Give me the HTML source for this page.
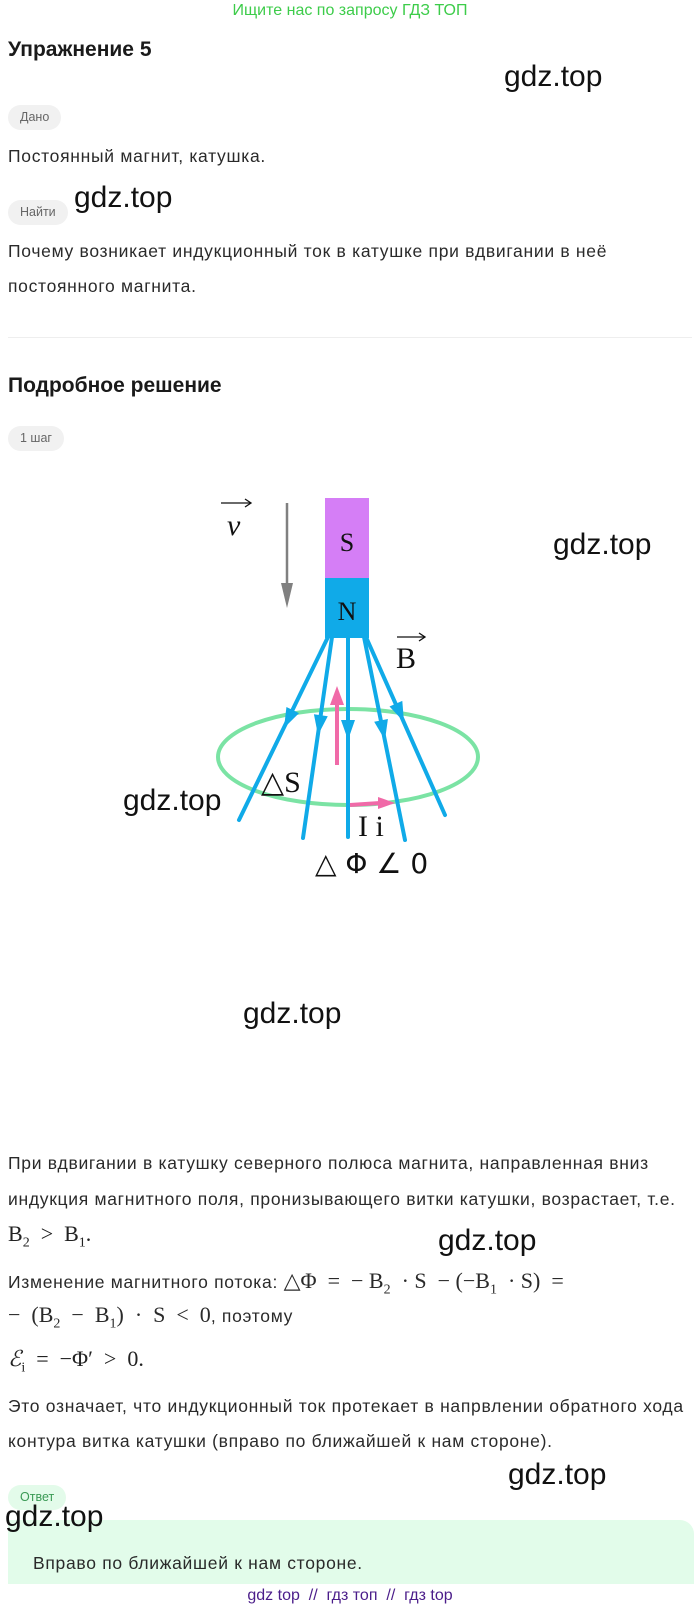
<!DOCTYPE html>
<html><head><meta charset="utf-8"><style>
body{margin:0;width:700px;height:1608px;position:relative;background:#fff;font-family:"Liberation Sans","DejaVu Sans",sans-serif;color:#222;overflow:hidden}
.a{position:absolute;white-space:nowrap}
.t{font-size:17.5px;letter-spacing:0.7px;color:#2a2a2a}
.pill{position:absolute;background:#f1f1f1;border-radius:13px;font-size:12.5px;color:#666;height:25px;line-height:25px;padding:0 12px}
.wm{position:absolute;font-size:30px;color:#111;white-space:nowrap}
.m{font-family:"Liberation Serif","DejaVu Serif",serif;font-size:22px;letter-spacing:0}
h1{position:absolute;margin:0;font-size:21px;font-weight:bold;color:#1a1a1a}
</style></head><body>
<div class="a" style="left:0;width:700px;text-align:center;top:2px;font-size:16px;color:#3dcc4a">Ищите нас по запросу ГДЗ ТОП</div>
<h1 style="left:8px;top:38px">Упражнение 5</h1>
<div class="wm" style="left:504px;top:60px">gdz.top</div>
<div class="pill" style="left:8px;top:105px">Дано</div>
<div class="a t" style="left:8px;top:146px">Постоянный магнит, катушка.</div>
<div class="pill" style="left:8px;top:200px">Найти</div>
<div class="wm" style="left:74px;top:181px">gdz.top</div>
<div class="a t" style="left:8px;top:241px">Почему возникает индукционный ток в катушке при вдвигании в неё</div>
<div class="a t" style="left:8px;top:276px">постоянного магнита.</div>
<div class="a" style="left:8px;top:337px;width:684px;height:1px;background:#eee"></div>
<h1 style="left:8px;top:374px">Подробное решение</h1>
<div class="pill" style="left:8px;top:426px">1 шаг</div>

<svg class="a" style="left:0;top:0" width="700" height="1100" viewBox="0 0 700 1100">
<ellipse cx="348" cy="757" rx="130" ry="48" fill="none" stroke="#7be3a4" stroke-width="4"/>
<rect x="325" y="498" width="44" height="80" fill="#d57ef6"/>
<rect x="325" y="578" width="44" height="60" fill="#10aae8"/>
<text x="347" y="551" font-family="Liberation Serif,serif" font-size="26" text-anchor="middle" fill="#111">S</text>
<text x="347" y="620" font-family="Liberation Serif,serif" font-size="26" text-anchor="middle" fill="#111">N</text>
<line x1="287" y1="503" x2="287" y2="585" stroke="#808080" stroke-width="2.5"/>
<path d="M281,583 L293,583 L287,608 Z" fill="#808080"/>
<g stroke="#10aae8" stroke-width="4" stroke-linecap="round" fill="none">
<line x1="328" y1="637" x2="239" y2="820"/>
<line x1="332" y1="637" x2="303" y2="838"/>
<line x1="348" y1="637" x2="348" y2="837"/>
<line x1="364" y1="637" x2="405" y2="840"/>
<line x1="366" y1="637" x2="445" y2="815"/>
</g>
<g fill="#10aae8">
<path d="M0,0 L-20,-7 L-20,7 Z" transform="translate(284,728) rotate(115.9)"/>
<path d="M0,0 L-20,-7 L-20,7 Z" transform="translate(318,735) rotate(98.2)"/>
<path d="M0,0 L-20,-7 L-20,7 Z" transform="translate(348,740) rotate(90)"/>
<path d="M0,0 L-20,-7 L-20,7 Z" transform="translate(385,740) rotate(78.6)"/>
<path d="M0,0 L-20,-7 L-20,7 Z" transform="translate(404,722) rotate(66.1)"/>
</g>
<line x1="337" y1="765" x2="337" y2="700" stroke="#f06aa8" stroke-width="4"/>
<path d="M330,705 L344,705 L337,686 Z" fill="#f06aa8"/>
<line x1="350" y1="805" x2="380" y2="803" stroke="#f06aa8" stroke-width="4"/>
<path d="M378,797 L395,803 L378,809 Z" fill="#f06aa8"/>
<g stroke="#111" stroke-width="1.3" fill="none">
<line x1="221" y1="503" x2="251" y2="503"/><path d="M245,499 L251,503 L245,507"/>
<line x1="397" y1="637" x2="425" y2="637"/><path d="M419,633 L425,637 L419,641"/>
</g>
<g font-family="Liberation Serif,serif" fill="#111">
<text x="227" y="535" font-size="30" font-style="italic">ν</text>
<text x="396" y="668" font-size="30">B</text>
<text x="261" y="792" font-size="30">△S</text>
<text x="358" y="836" font-size="30">I i</text>
</g>
<text x="315" y="873" font-family="DejaVu Sans,sans-serif" font-size="28" fill="#111">△ Φ ∠ 0</text>
</svg>
<div class="wm" style="left:553px;top:528px">gdz.top</div>
<div class="wm" style="left:123px;top:784px">gdz.top</div>
<div class="wm" style="left:243px;top:997px">gdz.top</div>

<div class="a t" style="left:8px;top:1153px">При вдвигании в катушку северного полюса магнита, направленная вниз</div>
<div class="a t" style="left:8px;top:1189px">индукция магнитного поля, пронизывающего витки катушки, возрастает, т.е.</div>
<div class="a m" style="left:8px;top:1221px">B<sub style="font-size:14px">2</sub> &nbsp;&gt;&nbsp; B<sub style="font-size:14px">1</sub>.</div>
<div class="wm" style="left:438px;top:1224px">gdz.top</div>
<div class="a t" style="left:8px;top:1268px">Изменение магнитного потока: <span class="m">△Φ &nbsp;= &nbsp;− B<sub style="font-size:14px">2</sub> &nbsp;· S &nbsp;− (−B<sub style="font-size:14px">1</sub> &nbsp;· S) &nbsp;=</span></div>
<div class="a t" style="left:8px;top:1302px"><span class="m">− &nbsp;(B<sub style="font-size:14px">2</sub> &nbsp;− &nbsp;B<sub style="font-size:14px">1</sub>) &nbsp;· &nbsp;S &nbsp;&lt; &nbsp;0</span>, поэтому</div>
<div class="a m" style="left:8px;top:1346px"><i>ℰ</i><sub style="font-size:14px">i</sub> &nbsp;= &nbsp;−Φ′ &nbsp;&gt; &nbsp;0.</div>
<div class="a t" style="left:8px;top:1396px">Это означает, что индукционный ток протекает в напрвлении обратного хода</div>
<div class="a t" style="left:8px;top:1431px">контура витка катушки (вправо по ближайшей к нам стороне).</div>
<div class="wm" style="left:508px;top:1458px">gdz.top</div>
<div class="pill" style="left:8px;top:1485px;background:#e3fbea;color:#3a9a55">Ответ</div>
<div class="a" style="left:8px;top:1520px;width:686px;height:64px;background:#e2fcea;border-radius:0 14px 0 0"></div>
<div class="a t" style="left:33px;top:1553px">Вправо по ближайшей к нам стороне.</div>
<div class="wm" style="left:5px;top:1500px">gdz.top</div>
<div class="a" style="left:0;width:700px;text-align:center;top:1587px;font-size:16px;color:#4b1d8a">gdz top &nbsp;// &nbsp;гдз топ &nbsp;// &nbsp;гдз top</div>
</body></html>
